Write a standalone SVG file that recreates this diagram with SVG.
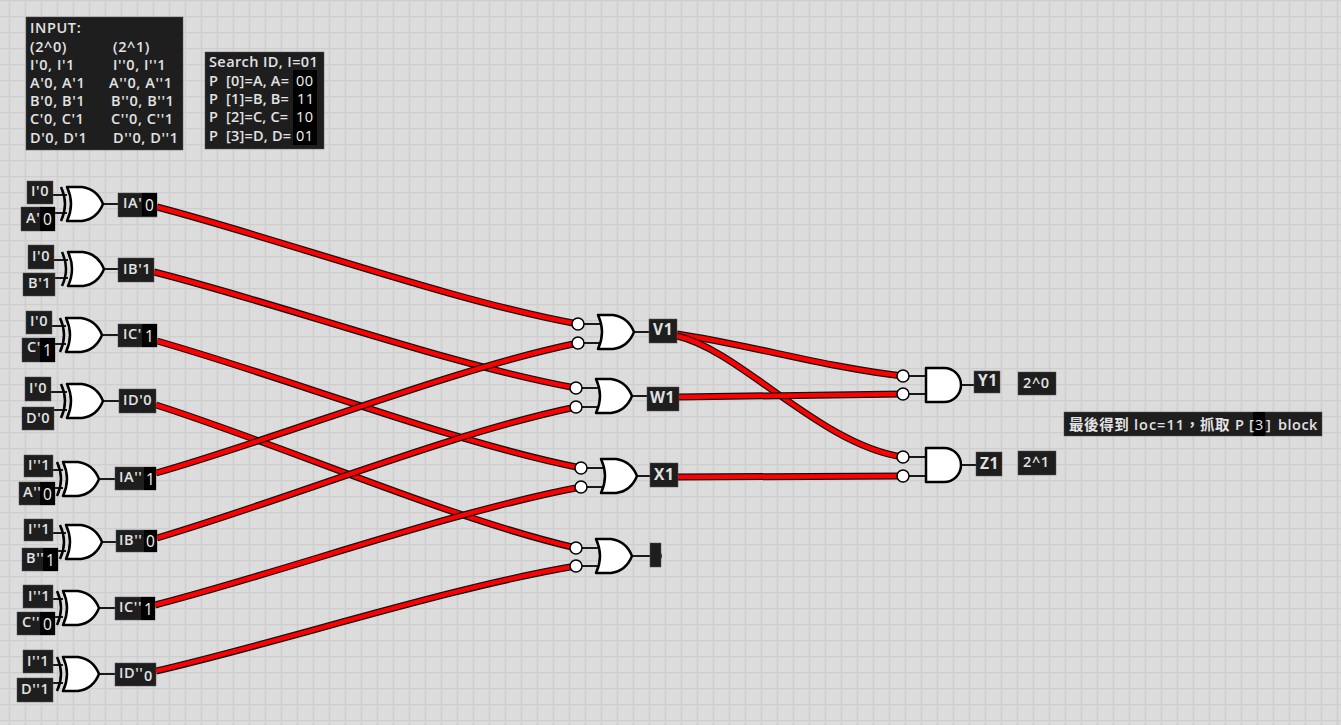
<svg xmlns="http://www.w3.org/2000/svg" width="1341" height="725" viewBox="0 0 1341 725">
<style>
text{font-family:"Open Sans","Noto Sans CJK TC",sans-serif;font-size:14.5px;fill:#e2e2e2;font-weight:600;letter-spacing:.6px;white-space:pre}
.b{fill:#1e1e1e;stroke:#555;stroke-width:.5}
.k{fill:#000}
.g{fill:#fff;stroke:#000;stroke-width:2.5;stroke-linejoin:round}
.a{fill:none;stroke:#000;stroke-width:2.5}
.p{fill:none;stroke:#1a1a1a;stroke-width:2.2}
.w{fill:none;stroke:#111;stroke-width:7}
.r{fill:none;stroke:#f00;stroke-width:4.5}
.c{fill:#fff;stroke:#000;stroke-width:1.5}
.n{font-weight:700;font-size:15.5px}
text.v{font-size:15.5px;font-weight:400;fill:#f2f2f2;letter-spacing:0}
text.d{font-weight:400;fill:#f2f2f2;letter-spacing:.4px}
text.s{letter-spacing:.2px}
</style>
<defs>
<pattern id="grid" width="16" height="16" patternUnits="userSpaceOnUse">
<rect width="16" height="16" fill="#dcdcdc"/>
<path d="M9.5 0V16M0 .5H16" stroke="#cecece" stroke-width="1.5" fill="none"/>
</pattern>
<g id="or"><path class="g" d="M-36-17H-21Q-6-15 0 0Q-6 15-21 17H-36Q-28 0-36-17Z"/></g>
<g id="xor"><path class="a" d="M-42-17Q-34 0-42 17"/><path class="g" d="M-36-17H-21Q-6-15 0 0Q-6 15-21 17H-36Q-28 0-36-17Z"/></g>
<g id="and"><path class="g" d="M-35-17H-17A17 17 0 0 1-17 17H-35Z"/></g>
<path id="p1" d="M157 207C283 240 452 301 578 324"/>
<path id="p2" d="M154 272C281 304 449 365 576 388"/>
<path id="p3" d="M157 341C284 377 454 443 581 468"/>
<path id="p4" d="M156 405C282 445 450 519 576 548"/>
<path id="p5" d="M156 473C283 437 451 369 578 343"/>
<path id="p6" d="M157 538C283 501 450 433 576 407"/>
<path id="p7" d="M155 605C283 572 453 511 581 487"/>
<path id="p8" d="M156 671C282 642 450 587 576 566"/>
<path id="p9" d="M677 334C750 345 830 368 903 376"/>
<path id="p10" d="M677 336C740 350 820 445 903 457"/>
<path id="p11" d="M679 397L903 394"/>
<path id="p12" d="M678 477L903 476"/>
</defs>
<rect width="1341" height="725" fill="url(#grid)"/>

<g id="connectors">
<use href="#p1" class="w"/><use href="#p1" class="r"/>
<use href="#p2" class="w"/><use href="#p2" class="r"/>
<use href="#p3" class="w"/><use href="#p3" class="r"/>
<use href="#p4" class="w"/><use href="#p4" class="r"/>
<use href="#p5" class="w"/><use href="#p5" class="r"/>
<use href="#p6" class="w"/><use href="#p6" class="r"/>
<use href="#p7" class="w"/><use href="#p7" class="r"/>
<use href="#p8" class="w"/><use href="#p8" class="r"/>
<use href="#p9" class="w"/><use href="#p9" class="r"/>
<use href="#p10" class="w"/><use href="#p10" class="r"/>
<use href="#p11" class="w"/><use href="#p11" class="r"/>
<use href="#p12" class="w"/><use href="#p12" class="r"/>
<path class="p" d="M53 195H67M54 213H67M103 204H118"/>
<path class="p" d="M54 260H68M55 278H68M104 269H118"/>
<path class="p" d="M52 326H66M55 344H66M102 335H118"/>
<path class="p" d="M51 392H67M54 410H67M103 401H119"/>
<path class="p" d="M53 470H63M55 488H63M99 479H115"/>
<path class="p" d="M53 533H66M58 551H66M102 542H116"/>
<path class="p" d="M53 599H63M55 617H63M99 608H115"/>
<path class="p" d="M53 665H63M53 683H63M99 674H115"/>
<path class="p" d="M578 324H600M578 343H600M634 332H649"/>
<path class="p" d="M576 388H598M576 407H598M632 396H647"/>
<path class="p" d="M581 468H603M581 487H603M637 476H650"/>
<path class="p" d="M576 548H598M576 566H598M632 556H650"/>
<path class="p" d="M903 376H926M903 394H926M961 385H974"/>
<path class="p" d="M903 457H926M903 476H926M961 465H976"/>
</g>

<g id="info-input"><rect class="b" x="26" y="17" width="157" height="133"/>
<text x="30" y="33">INPUT:</text>
<text x="30" y="52">(2^0)</text><text x="113" y="52">(2^1)</text>
<text x="30" y="70">I'0, I'1</text><text x="113" y="70">I''0, I''1</text>
<text x="30" y="88">A'0, A'1</text><text x="109" y="88">A''0, A''1</text>
<text x="30" y="106">B'0, B'1</text><text x="111" y="106">B''0, B''1</text>
<text x="30" y="124">C'0, C'1</text><text x="111" y="124">C''0, C''1</text>
<text x="30" y="143">D'0, D'1</text><text x="113" y="143">D''0, D''1</text></g>

<g id="info-search"><rect class="b" x="205" y="52" width="119" height="97"/><rect class="k" x="293" y="70" width="24" height="75"/>
<text x="209" y="67" style="letter-spacing:.4px">Search ID, I=01</text>
<text class="s" x="209" y="86">P  [0]=A, A=</text><text class="d" x="296" y="86">00</text>
<text class="s" x="209" y="104">P  [1]=B, B=</text><text class="d" x="297" y="104">11</text>
<text class="s" x="209" y="122">P  [2]=C, C=</text><text class="d" x="296" y="122">10</text>
<text class="s" x="209" y="141">P  [3]=D, D=</text><text class="d" x="296" y="141">01</text></g>

<g id="x1"><use href="#xor" x="103" y="204"/></g>
<g id="x2"><use href="#xor" x="104" y="269"/></g>
<g id="x3"><use href="#xor" x="102" y="335"/></g>
<g id="x4"><use href="#xor" x="103" y="401"/></g>
<g id="x5"><use href="#xor" x="99" y="479"/></g>
<g id="x6"><use href="#xor" x="102" y="542"/></g>
<g id="x7"><use href="#xor" x="99" y="608"/></g>
<g id="x8"><use href="#xor" x="99" y="674"/></g>

<g id="i1"><rect class="b" x="27" y="181" width="26" height="23"/><text x="31" y="196">I'0</text></g>
<g id="a1"><rect class="b" x="21" y="207" width="34" height="24"/><rect class="k" x="40" y="207" width="15" height="24"/><text x="26" y="223">A'</text><text class="v" x="43" y="225">0</text></g>
<g id="o1"><rect class="b" x="118" y="193" width="39" height="24"/><rect class="k" x="142" y="193" width="15" height="23"/><text x="123" y="208">IA'</text><text class="v" x="145" y="211">0</text></g>

<g id="i2"><rect class="b" x="28" y="245" width="26" height="24"/><text x="32" y="261">I'0</text></g>
<g id="a2"><rect class="b" x="23" y="273" width="32" height="23"/><text x="28" y="288">B'1</text></g>
<g id="o2"><rect class="b" x="118" y="258" width="36" height="24"/><text x="123" y="274">IB'1</text></g>

<g id="i3"><rect class="b" x="26" y="311" width="26" height="23"/><text x="30" y="326">I'0</text></g>
<g id="a3"><rect class="b" x="22" y="338" width="33" height="24"/><rect class="k" x="40" y="338" width="15" height="24"/><text x="27" y="352">C'</text><text class="v" x="43" y="356">1</text></g>
<g id="o3"><rect class="b" x="118" y="324" width="39" height="23"/><rect class="k" x="142" y="324" width="15" height="23"/><text x="123" y="339">IC'</text><text class="v" x="145" y="342">1</text></g>

<g id="i4"><rect class="b" x="25" y="377" width="26" height="24"/><text x="29" y="393">I'0</text></g>
<g id="a4"><rect class="b" x="22" y="407" width="32" height="23"/><text x="26" y="423">D'0</text></g>
<g id="o4"><rect class="b" x="119" y="389" width="37" height="24"/><text x="123" y="405">ID'0</text></g>

<g id="i5"><rect class="b" x="24" y="455" width="29" height="22"/><text x="28" y="470">I''1</text></g>
<g id="a5"><rect class="b" x="19" y="482" width="36" height="23"/><rect class="k" x="40" y="482" width="15" height="23"/><text x="23" y="497">A''</text><text class="v" x="43" y="500">0</text></g>
<g id="o5"><rect class="b" x="115" y="467" width="41" height="23"/><rect class="k" x="144" y="467" width="12" height="23"/><text x="119" y="482">IA''</text><text class="v" x="146" y="485">1</text></g>

<g id="i6"><rect class="b" x="24" y="519" width="29" height="22"/><text x="28" y="534">I''1</text></g>
<g id="a6"><rect class="b" x="22" y="548" width="36" height="23"/><rect class="k" x="43" y="548" width="15" height="23"/><text x="26" y="563">B''</text><text class="v" x="46" y="566">1</text></g>
<g id="o6"><rect class="b" x="116" y="530" width="41" height="22"/><rect class="k" x="144" y="530" width="13" height="22"/><text x="119" y="545">IB''</text><text class="v" x="146" y="547">0</text></g>

<g id="i7"><rect class="b" x="23" y="585" width="30" height="23"/><text x="28" y="601">I''1</text></g>
<g id="a7"><rect class="b" x="17" y="612" width="38" height="23"/><rect class="k" x="40" y="612" width="15" height="23"/><text x="22" y="627">C''</text><text class="v" x="43" y="630">0</text></g>
<g id="o7"><rect class="b" x="115" y="597" width="40" height="23"/><rect class="k" x="141" y="597" width="14" height="23"/><text x="119" y="612">IC''</text><text class="v" x="144" y="615">1</text></g>

<g id="i8"><rect class="b" x="23" y="650" width="30" height="23"/><text x="27" y="666">I''1</text></g>
<g id="a8"><rect class="b" x="17" y="678" width="36" height="24"/><text x="21" y="694">D''1</text></g>
<g id="o8"><rect class="b" x="115" y="663" width="41" height="23"/><text x="119" y="678">ID''</text><text x="144" y="681">0</text></g>

<g id="or1"><use href="#or" x="634" y="332"/><circle class="c" cx="578" cy="324" r="6"/><circle class="c" cx="578" cy="343" r="6"/></g>
<g id="or2"><use href="#or" x="632" y="396"/><circle class="c" cx="576" cy="388" r="6"/><circle class="c" cx="576" cy="407" r="6"/></g>
<g id="or3"><use href="#or" x="637" y="476"/><circle class="c" cx="581" cy="468" r="6"/><circle class="c" cx="581" cy="487" r="6"/></g>
<g id="or4"><use href="#or" x="632" y="556"/><circle class="c" cx="576" cy="548" r="6"/><circle class="c" cx="576" cy="566" r="6"/></g>

<g id="V1"><rect class="b" x="649" y="319" width="28" height="24"/><text class="n" x="653" y="335">V1</text></g>
<g id="W1"><rect class="b" x="647" y="387" width="32" height="24"/><text class="n" x="650" y="403">W1</text></g>
<g id="X1"><rect class="b" x="650" y="463" width="28" height="24"/><text class="n" x="654" y="480">X1</text></g>
<g id="out4"><circle cx="657" cy="556" r="5" fill="#1e1e1e"/><rect class="b" x="650" y="543" width="11" height="24"/></g>

<g id="and1"><use href="#and" x="961" y="385"/><circle class="c" cx="903" cy="376" r="6"/><circle class="c" cx="903" cy="394" r="6"/></g>
<g id="and2"><use href="#and" x="961" y="465"/><circle class="c" cx="903" cy="457" r="6"/><circle class="c" cx="903" cy="476" r="6"/></g>

<g id="Y1"><rect class="b" x="974" y="371" width="26" height="22"/><text class="n" x="978" y="386">Y1</text></g>
<g id="Z1"><rect class="b" x="976" y="452" width="26" height="24"/><text class="n" x="980" y="469">Z1</text></g>
<g id="l20"><rect class="b" x="1018" y="372" width="38" height="23"/><text x="1023" y="388">2^0</text></g>
<g id="l21"><rect class="b" x="1018" y="451" width="38" height="24"/><text x="1023" y="467">2^1</text></g>
<g id="result"><rect class="b" x="1064" y="412" width="258" height="24"/><rect class="k" x="1253" y="412" width="12" height="24"/>
<text y="430"><tspan x="1069">最後得到</tspan> <tspan x="1134" style="letter-spacing:1px">loc=11</tspan><tspan x="1185">，</tspan><tspan x="1200">抓取</tspan> <tspan x="1235">P</tspan> <tspan x="1249">[</tspan></text><text x="1255" y="430" style="font-weight:400">3</text><text y="430"><tspan x="1266">]</tspan> <tspan x="1278" style="letter-spacing:.5px">block</tspan></text></g>
</svg>
